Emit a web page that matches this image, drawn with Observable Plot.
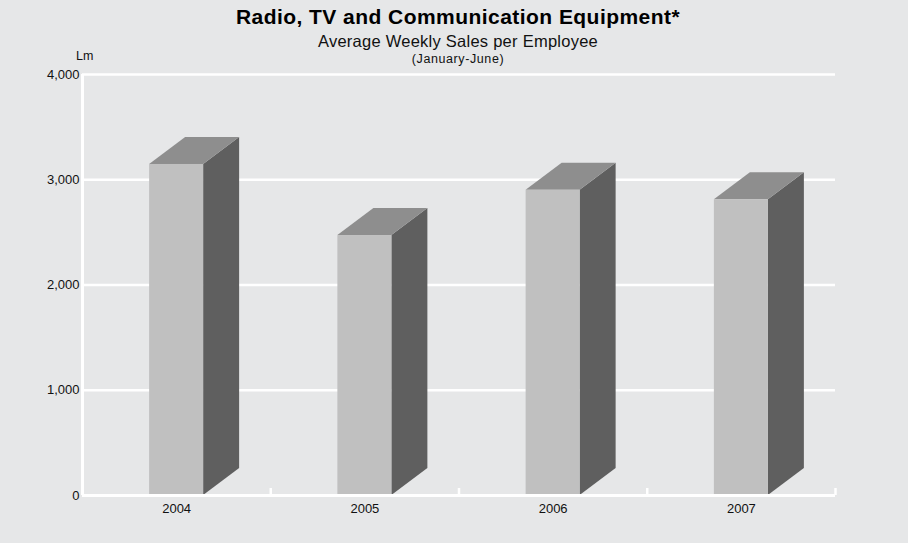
<!DOCTYPE html>
<html>
<head>
<meta charset="utf-8">
<script src="https://cdn.jsdelivr.net/npm/d3@7"></script>
<script src="https://cdn.jsdelivr.net/npm/@observablehq/plot@0.6"></script>
<style>
  html, body { margin: 0; padding: 0; background: #e6e7e8; }
  #wrap { position: relative; width: 908px; height: 543px; overflow: hidden;
          font-family: "Liberation Sans", Arial, Helvetica, sans-serif; color: #111; }
  .t { position: absolute; left: 0; width: 916px; text-align: center; line-height: 1; white-space: nowrap; }
  #chart { position: absolute; left: 0; top: 0; }
</style>
</head>
<body>
<div id="wrap">
  <div id="chart"></div>
  <div class="t" style="top:5.8px;font-size:21px;font-weight:bold;letter-spacing:0.45px;color:#000">Radio, TV and Communication Equipment*</div>
  <div class="t" style="top:32.7px;font-size:16.5px;letter-spacing:0.25px">Average Weekly Sales per Employee</div>
  <div class="t" style="top:52.9px;font-size:12.5px;letter-spacing:0.6px">(January-June)</div>
  <div class="t" style="top:50.4px;left:76px;width:auto;font-size:12.5px;text-align:left">Lm</div>
</div>
<script>
// ---- data ----
const years = ["2004", "2005", "2006", "2007"];
const sales = [3145, 2470, 2900, 2810];
const yTicks = [0, 1000, 2000, 3000, 4000];

// ---- layout ----
const W = 908, H = 543;
const mL = 82, mR = 73, mT = 74, mB = 48;
const n = years.length;
const pxPerX = (W - mL - mR) / n;           // px per category unit
const pxPerY = (H - mT - mB) / 4000;        // px per value unit
const halfW = 27 / pxPerX;                  // half front width in x units
const depX = 36 / pxPerX;                   // depth offset (x units)
const depY = 27 / pxPerY;                   // depth offset (y units)

const bars = years.map((yr, i) => ({ yr, v: sales[i], c: i + 0.5 }));

const sideFace = bars.flatMap(b => [
  { yr: b.yr, x: b.c + halfW, y1: 0, y2: b.v },
  { yr: b.yr, x: b.c + halfW + depX, y1: depY, y2: b.v + depY }
]);
const topFace = bars.flatMap(b => [
  { yr: b.yr, y: b.v, x1: b.c - halfW, x2: b.c + halfW },
  { yr: b.yr, y: b.v + depY, x1: b.c - halfW + depX, x2: b.c + halfW + depX }
]);

const chart = Plot.plot({
  width: W, height: H,
  marginLeft: mL, marginRight: mR, marginTop: mT, marginBottom: mB,
  style: { background: "transparent", fontFamily: "Liberation Sans, Arial, sans-serif", fontSize: "13px", color: "#111" },
  x: { domain: [0, n] },
  y: { domain: [0, 4000] },
  marks: [
    Plot.ruleY(yTicks.slice(1), { stroke: "white", strokeWidth: 2.5 }),
    Plot.areaY(sideFace, { x: "x", y1: "y1", y2: "y2", z: "yr", fill: "#5f5f5f" }),
    Plot.areaX(topFace, { y: "y", x1: "x1", x2: "x2", z: "yr", fill: "#8e8e8e" }),
    Plot.rect(bars, { x1: d => d.c - halfW, x2: d => d.c + halfW, y1: 0, y2: "v", fill: "#c0c0c0" }),
    Plot.ruleY([0], { stroke: "white", strokeWidth: 3 }),
    Plot.ruleX([0], { stroke: "white", strokeWidth: 3 }),
    Plot.axisX({ ticks: d3.range(1, n + 1), tickSize: 7, tickFormat: () => "", stroke: "white", strokeWidth: 2.5, dy: -7 }),
    Plot.axisX({ ticks: bars.map(b => b.c), tickFormat: d => years[Math.floor(d)], tickSize: 0, tickPadding: 8, fontSize: 13, fill: "#111" }),
    Plot.axisY({ ticks: yTicks, tickFormat: d3.format(","), tickSize: 0, tickPadding: 3, fontSize: 13, fill: "#111", label: null })
  ]
});
document.getElementById("chart").appendChild(chart);
</script>
</body>
</html>
